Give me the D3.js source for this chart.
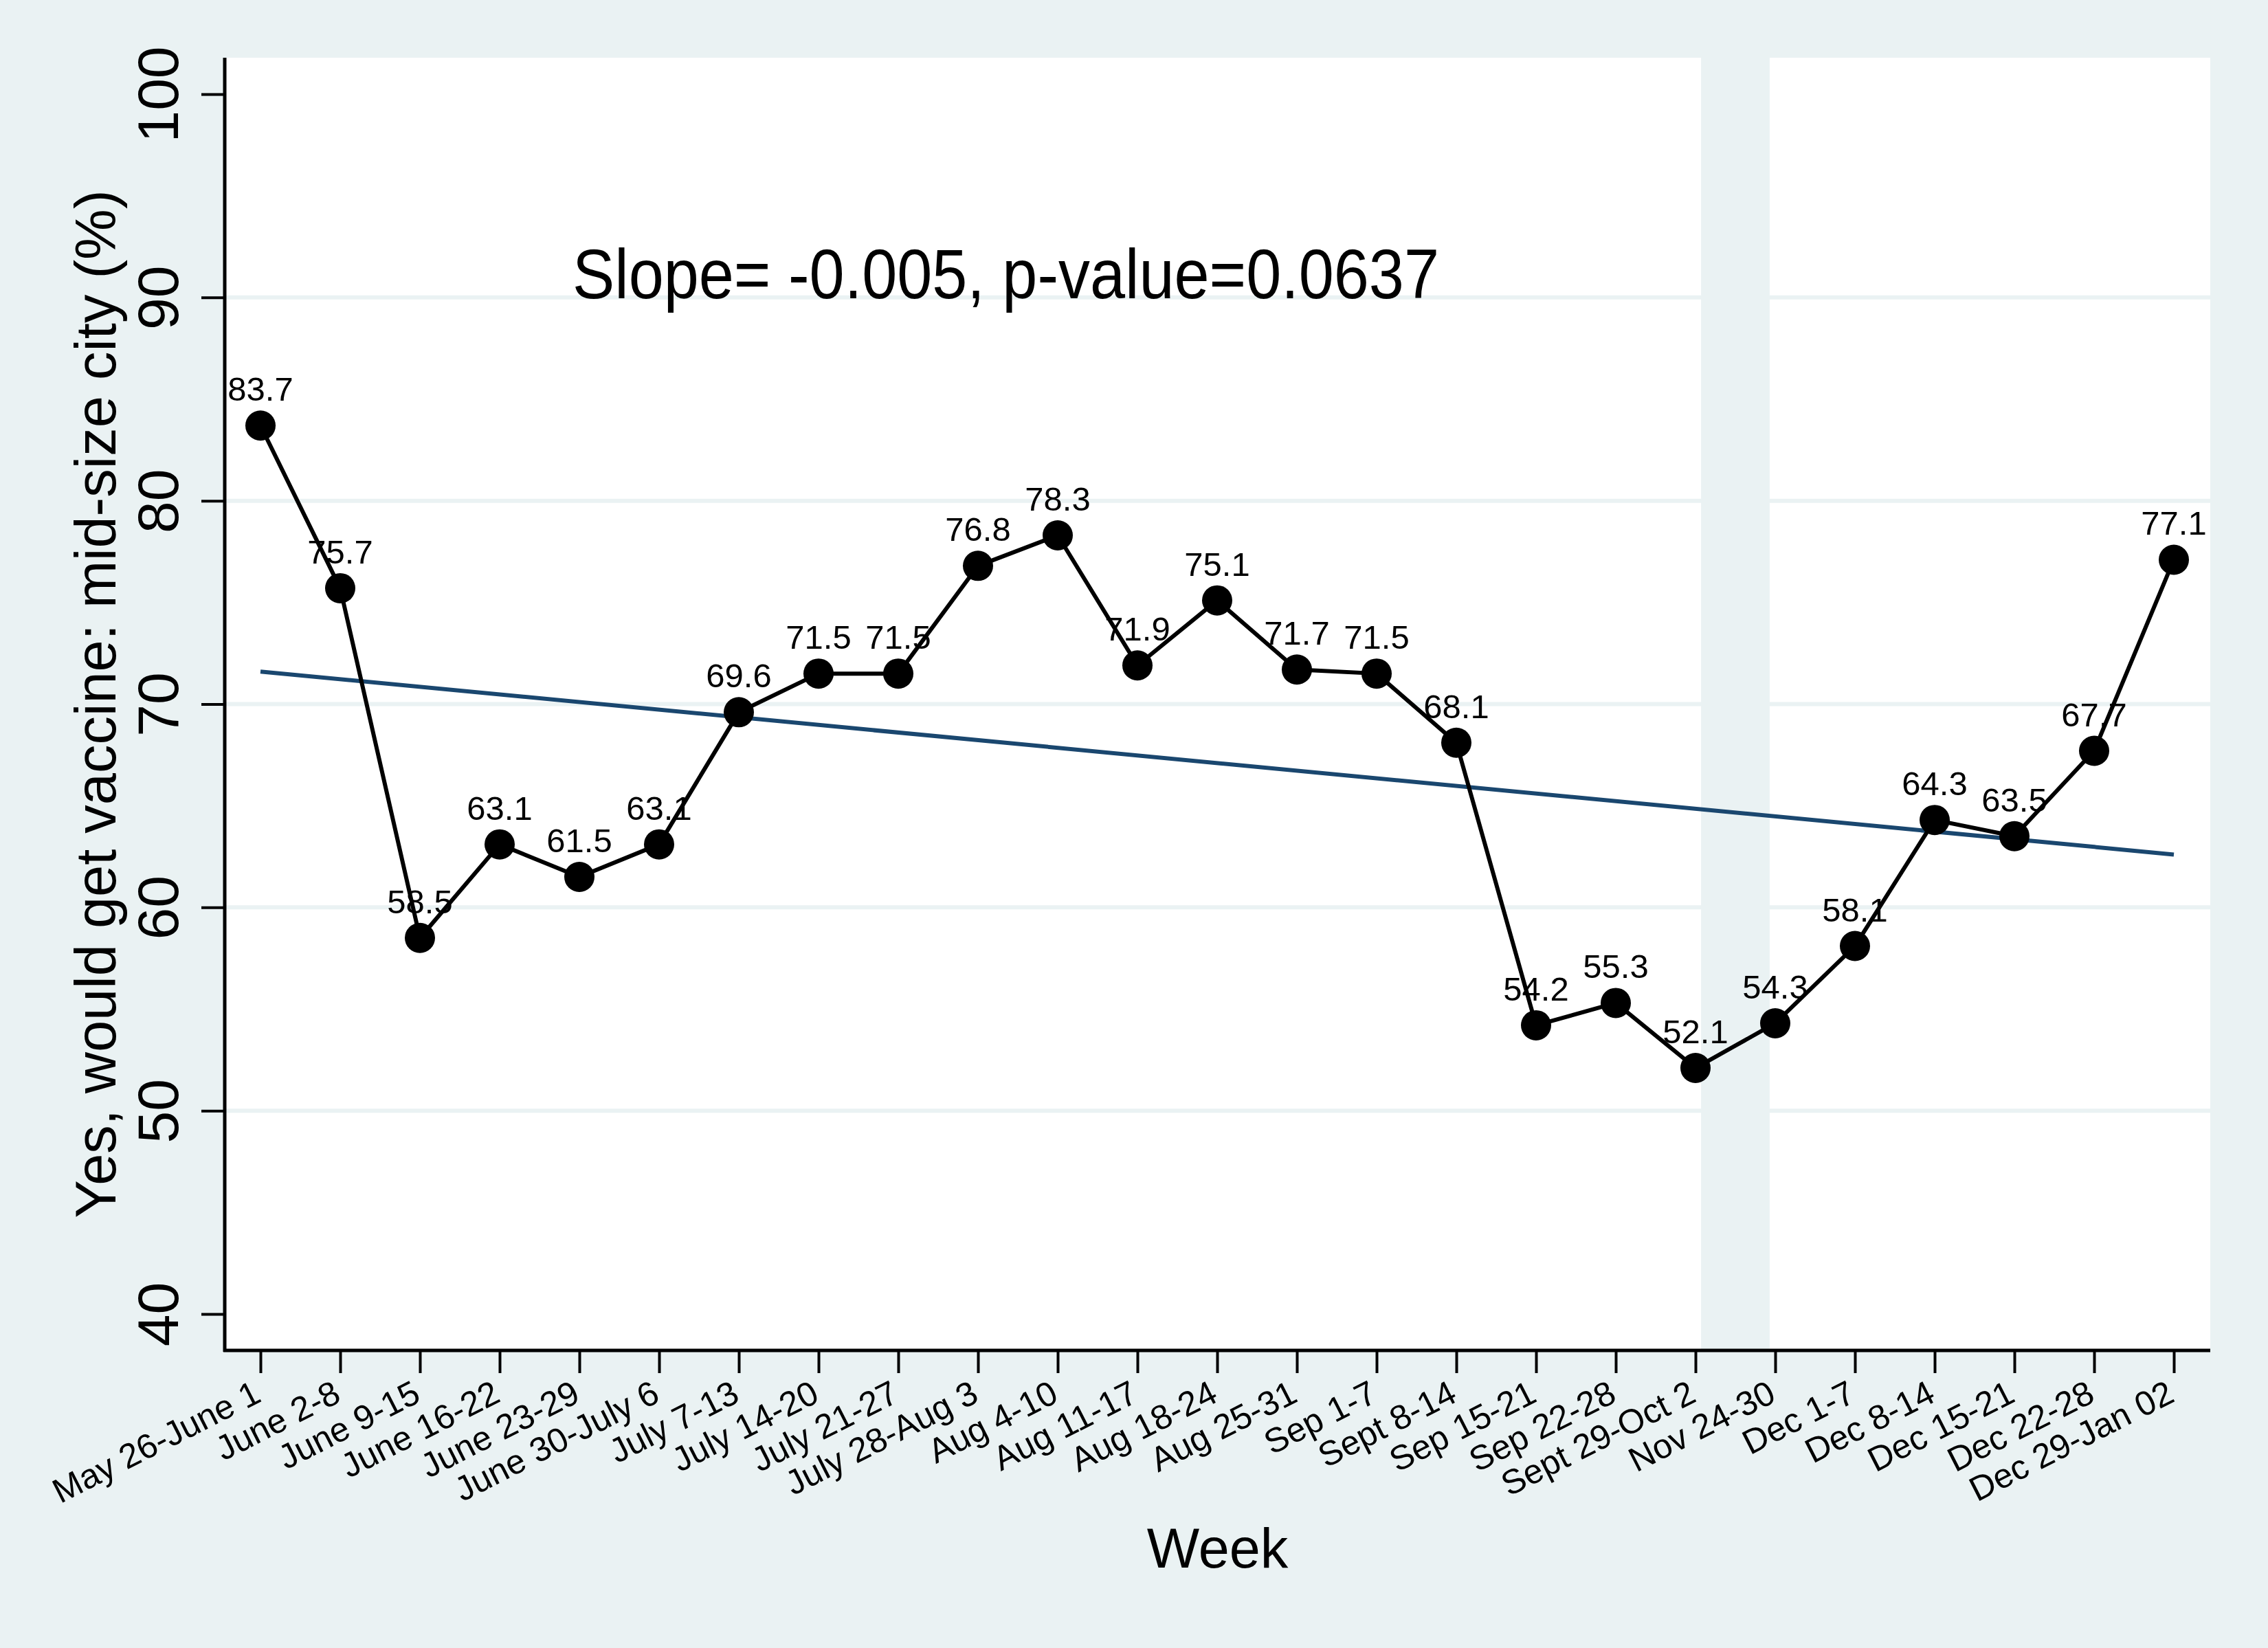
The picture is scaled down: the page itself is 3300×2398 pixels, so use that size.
<!DOCTYPE html>
<html>
<head>
<meta charset="utf-8">
<script src="https://cdn.jsdelivr.net/npm/d3@7"></script>
<style>
  html, body { margin: 0; padding: 0; background: #EAF2F3; }
  svg { display: block; }
  text { font-family: "Liberation Sans", Arial, Helvetica, sans-serif; fill: #000; }
</style>
</head>
<body>
<svg id="chart" width="3300" height="2398"></svg>
<script>
// ---- data ----
const weeks = ["May 26-June 1","June 2-8","June 9-15","June 16-22","June 23-29","June 30-July 6",
  "July 7-13","July 14-20","July 21-27","July 28-Aug 3","Aug 4-10","Aug 11-17","Aug 18-24",
  "Aug 25-31","Sep 1-7","Sept 8-14","Sep 15-21","Sep 22-28","Sept 29-Oct 2","Nov 24-30",
  "Dec 1-7","Dec 8-14","Dec 15-21","Dec 22-28","Dec 29-Jan 02"];
const values = [83.7,75.7,58.5,63.1,61.5,63.1,69.6,71.5,71.5,76.8,78.3,71.9,75.1,71.7,71.5,68.1,
  54.2,55.3,52.1,54.3,58.1,64.3,63.5,67.7,77.1];
const yTicks = [40,50,60,70,80,90,100];
const gridValues = [50,60,70,80,90];
const fitEnds = [71.6, 62.6];          // fitted line value at first and last week
const gapBand = [18.07, 18.93];        // shaded gap, in week-index units
const annotation = "Slope= -0.005, p-value=0.0637";
const xTitle = "Week";
const yTitle = "Yes, would get vaccine: mid-size city (%)";

// ---- layout ----
const W = 3300, H = 2398;
const plot = {left: 327, right: 3216, top: 84, bottom: 1965};
const bg = "#EAF2F3";

const svg = d3.select("#chart");
const x = d3.scaleLinear().domain([0, weeks.length - 1]).range([379, 3163]);
const y = d3.scaleLinear().domain([40, 100]).range([1912, 137]);

svg.append("rect").attr("width", W).attr("height", H).attr("fill", bg);
svg.append("rect").attr("x", plot.left).attr("y", plot.top)
  .attr("width", plot.right - plot.left).attr("height", plot.bottom - plot.top).attr("fill", "#fff");

// gap band
svg.append("rect")
  .attr("x", x(gapBand[0])).attr("y", plot.top)
  .attr("width", x(gapBand[1]) - x(gapBand[0])).attr("height", plot.bottom - plot.top)
  .attr("fill", bg);

// gridlines
svg.append("g").selectAll("line").data(gridValues).join("line")
  .attr("x1", plot.left).attr("x2", plot.right)
  .attr("y1", d => y(d)).attr("y2", d => y(d))
  .attr("stroke", bg).attr("stroke-width", 6);

// fitted line
svg.append("line")
  .attr("x1", x(0)).attr("y1", y(fitEnds[0]))
  .attr("x2", x(weeks.length - 1)).attr("y2", y(fitEnds[1]))
  .attr("stroke", "#1a476f").attr("stroke-width", 6);

// point labels (under the line)
svg.append("g").selectAll("text").data(values).join("text")
  .attr("x", (d, i) => x(i)).attr("y", d => y(d) - 36)
  .attr("text-anchor", "middle").attr("font-size", 49)
  .text(d => d.toFixed(1));

// connected line
svg.append("path").datum(values)
  .attr("d", d3.line().x((d, i) => x(i)).y(d => y(d)))
  .attr("fill", "none").attr("stroke", "#000").attr("stroke-width", 6)
  .attr("stroke-linejoin", "round");

svg.append("g").selectAll("circle").data(values).join("circle")
  .attr("cx", (d, i) => x(i)).attr("cy", d => y(d)).attr("r", 22).attr("fill", "#000");

// y axis
const yAxis = d3.axisLeft(y).tickValues(yTicks).tickSize(34).tickPadding(0).tickFormat(d3.format("d"));
const gy = svg.append("g").attr("transform", `translate(${plot.left},0)`).call(yAxis);
gy.select(".domain").remove();
gy.selectAll(".tick line").attr("stroke", "#000").attr("stroke-width", 4);
gy.selectAll(".tick text")
  .attr("x", null).attr("dy", null)
  .attr("transform", "translate(-68,0) rotate(-90)")
  .attr("text-anchor", "middle").attr("font-size", 84)
  .attr("font-family", '"Liberation Sans", Arial, sans-serif').attr("fill", "#000");
svg.append("line").attr("x1", plot.left).attr("x2", plot.left)
  .attr("y1", plot.top).attr("y2", plot.bottom + 2).attr("stroke", "#000").attr("stroke-width", 5);

// x axis
const xAxis = d3.axisBottom(x).tickValues(d3.range(weeks.length)).tickSize(33).tickPadding(0)
  .tickFormat(i => weeks[i]);
const gx = svg.append("g").attr("transform", `translate(0,${plot.bottom})`).call(xAxis);
gx.select(".domain").remove();
gx.selectAll(".tick line").attr("stroke", "#000").attr("stroke-width", 4);
gx.selectAll(".tick text")
  .attr("y", null).attr("dy", null)
  .attr("transform", "translate(3,73) rotate(-27)")
  .attr("text-anchor", "end").attr("font-size", 50)
  .attr("font-family", '"Liberation Sans", Arial, sans-serif').attr("fill", "#000");
svg.append("line").attr("x1", plot.left - 2).attr("x2", plot.right)
  .attr("y1", plot.bottom).attr("y2", plot.bottom).attr("stroke", "#000").attr("stroke-width", 5);

// titles
svg.append("text").attr("x", (plot.left + plot.right) / 2).attr("y", 2281)
  .attr("text-anchor", "middle").attr("font-size", 81).text(xTitle);
svg.append("text")
  .attr("transform", `translate(168,${(plot.top + plot.bottom) / 2}) rotate(-90)`)
  .attr("text-anchor", "middle").attr("font-size", 83).text(yTitle);

// annotation
svg.append("text").attr("x", 833).attr("y", 434)
  .attr("font-size", 102).attr("textLength", 1261).attr("lengthAdjust", "spacingAndGlyphs")
  .text(annotation);
</script>
</body>
</html>
